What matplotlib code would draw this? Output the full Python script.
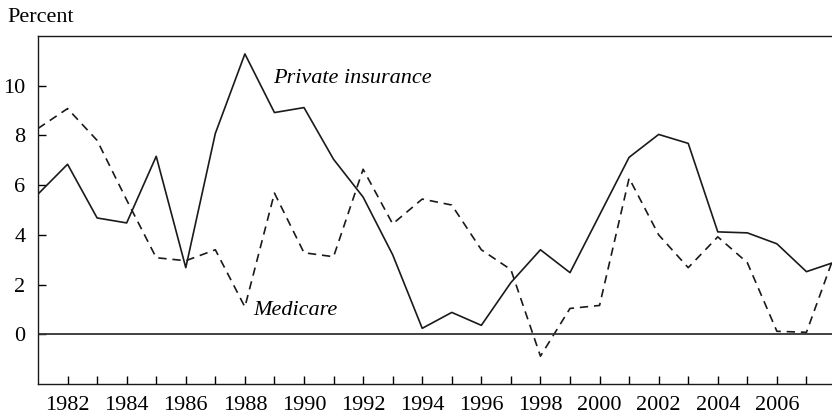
import matplotlib
matplotlib.use("Agg")
import matplotlib.pyplot as plt

plt.rcParams['font.family'] = ['Liberation Serif', 'DejaVu Serif']

years = list(range(1981, 2009))
private_ins = [5.64, 6.84, 4.68, 4.48, 7.16, 2.68, 8.08, 11.28, 8.92, 9.12,
               7.04, 5.52, 3.2, 0.24, 0.88, 0.36, 2.08, 3.4, 2.48, 4.8,
               7.12, 8.04, 7.68, 4.12, 4.08, 3.64, 2.52, 2.92]
medicare = [8.28, 9.08, 7.8, 5.4, 3.08, 2.96, 3.4, 1.1, 5.68, 3.28,
            3.12, 6.64, 4.44, 5.44, 5.2, 3.4, 2.6, -0.88, 1.04, 1.16,
            6.28, 4.0, 2.68, 3.92, 2.88, 0.12, 0.08, 3.36]
major_years = list(range(1982, 2007, 2))
minor_years = list(range(1983, 2008, 2))
y_ticks = [0, 2, 4, 6, 8, 10]

fig = plt.figure(figsize=(8.32, 4.17), dpi=100)
ax = fig.add_axes([38/832, 33/417, 798/832, 348/417])

ax.plot(years, private_ins, color='#1a1a1a', lw=1.2)
ax.plot(years, medicare, color='#1a1a1a', lw=1.2, dashes=(5, 3.5))
ax.axhline(0, color='#333333', lw=1.3)

ax.set_xlim(1981, 2008)
ax.set_ylim(-2, 12)

ax.spines['right'].set_visible(False)
for s in ['left', 'top', 'bottom']:
    ax.spines[s].set_linewidth(1.0)
    ax.spines[s].set_color('#1a1a1a')

ax.set_xticks(major_years)
ax.set_xticks(minor_years, minor=True)
ax.set_yticks(y_ticks)
ax.tick_params(axis='x', which='both', direction='in', length=6, width=1,
               labelsize=16, pad=9)
ax.tick_params(axis='y', direction='in', length=6, width=1, labelsize=16, pad=9)

ax.text(1988.96, 10.3, 'Private insurance', style='italic', fontsize=16,
        ha='left', va='center')
ax.text(1988.28, 0.94, 'Medicare', style='italic', fontsize=16,
        ha='left', va='center')
fig.text(7/832, 1 - 17/417, 'Percent', fontsize=16, ha='left', va='center')

fig.savefig('out.png', dpi=100)
